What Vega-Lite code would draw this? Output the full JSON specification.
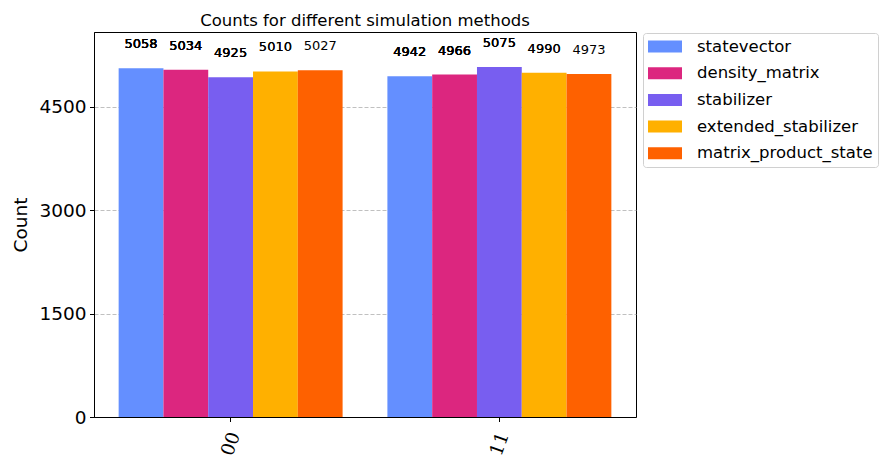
{
  "$schema": "https://vega.github.io/schema/vega-lite/v6.json",
  "width": 542,
  "height": 385,
  "autosize": {"type": "none"},
  "padding": {"left": 94, "top": 32, "right": 252, "bottom": 49},
  "background": "white",
  "title": {
    "text": "Counts for different simulation methods",
    "fontSize": 16.5,
    "font": "DejaVu Sans",
    "fontWeight": "normal",
    "color": "black",
    "anchor": "middle",
    "baseline": "alphabetic",
    "offset": -10
  },
  "config": {
    "font": "DejaVu Sans",
    "view": {"stroke": "black", "strokeWidth": 1}
  },
  "data": {
    "values": [
      {"state": "00", "method": "statevector", "count": 5058},
      {"state": "00", "method": "density_matrix", "count": 5034},
      {"state": "00", "method": "stabilizer", "count": 4925},
      {"state": "00", "method": "extended_stabilizer", "count": 5010},
      {"state": "00", "method": "matrix_product_state", "count": 5027},
      {"state": "11", "method": "statevector", "count": 4942},
      {"state": "11", "method": "density_matrix", "count": 4966},
      {"state": "11", "method": "stabilizer", "count": 5075},
      {"state": "11", "method": "extended_stabilizer", "count": 4990},
      {"state": "11", "method": "matrix_product_state", "count": 4973}
    ]
  },
  "encoding": {
    "x": {
      "field": "state",
      "type": "nominal",
      "scale": {"paddingInner": 0.16667, "paddingOuter": 0.0917},
      "axis": {
        "title": null,
        "labelAngle": -70,
        "labelAlign": "center",
        "labelBaseline": "middle",
        "labelPadding": 22,
        "labelFont": "DejaVu Serif",
        "labelFontSize": 18.5,
        "labelColor": "black",
        "tickSize": 4.5,
        "tickColor": "black",
        "domainColor": "black",
        "grid": false
      }
    },
    "xOffset": {
      "field": "method",
      "type": "nominal",
      "sort": ["statevector", "density_matrix", "stabilizer", "extended_stabilizer", "matrix_product_state"],
      "scale": {"paddingInner": 0, "paddingOuter": 0}
    },
    "y": {
      "field": "count",
      "type": "quantitative",
      "scale": {"domain": [0, 5582.5], "nice": false, "zero": true},
      "axis": {
        "title": "Count",
        "titleFontSize": 18.5,
        "titleFontWeight": "normal",
        "titleColor": "black",
        "titlePadding": 8,
        "values": [0, 1500, 3000, 4500],
        "format": "d",
        "labelFontSize": 18.5,
        "labelColor": "black",
        "labelPadding": 3.5,
        "tickSize": 4.5,
        "tickColor": "black",
        "domainColor": "black",
        "grid": true,
        "gridColor": "#b0b0b0",
        "gridDash": [4, 2],
        "gridWidth": 0.8
      }
    }
  },
  "layer": [
    {
      "mark": {"type": "bar"},
      "encoding": {
        "color": {
          "field": "method",
          "type": "nominal",
          "scale": {
            "domain": ["statevector", "density_matrix", "stabilizer", "extended_stabilizer", "matrix_product_state"],
            "range": ["#648fff", "#dc267f", "#785ef0", "#ffb000", "#fe6100"]
          },
          "legend": {
            "title": null,
            "orient": "none",
            "legendX": 549,
            "legendY": 1,
            "labelFontSize": 16.5,
            "labelColor": "black",
            "labelLimit": 400,
            "symbolType": "M-2,-0.706H2V0.706H-2Z",
            "symbolSize": 289,
            "symbolStrokeWidth": 0,
            "symbolOpacity": 1,
            "symbolOffset": 8.5,
            "labelOffset": 23.5,
            "rowPadding": 9.7,
            "padding": 5,
            "strokeColor": "#d0d0d0",
            "cornerRadius": 3,
            "fillColor": "white"
          }
        }
      }
    },
    {
      "mark": {"type": "text", "baseline": "alphabetic", "dy": -20, "fontSize": 13, "color": "black"},
      "encoding": {"text": {"field": "count", "type": "quantitative"}}
    },
    {
      "transform": [{"filter": "datum.method !== 'matrix_product_state'"}],
      "mark": {"type": "text", "baseline": "alphabetic", "dy": -20, "fontSize": 13, "color": "black"},
      "encoding": {"text": {"field": "count", "type": "quantitative"}}
    },
    {
      "transform": [{"filter": "datum.method !== 'matrix_product_state' && datum.method !== 'extended_stabilizer'"}],
      "mark": {"type": "text", "baseline": "alphabetic", "dy": -20, "fontSize": 13, "color": "black"},
      "encoding": {"text": {"field": "count", "type": "quantitative"}}
    },
    {
      "transform": [{"filter": "datum.method === 'statevector' || datum.method === 'density_matrix'"}],
      "mark": {"type": "text", "baseline": "alphabetic", "dy": -20, "fontSize": 13, "color": "black"},
      "encoding": {"text": {"field": "count", "type": "quantitative"}}
    }
  ]
}
